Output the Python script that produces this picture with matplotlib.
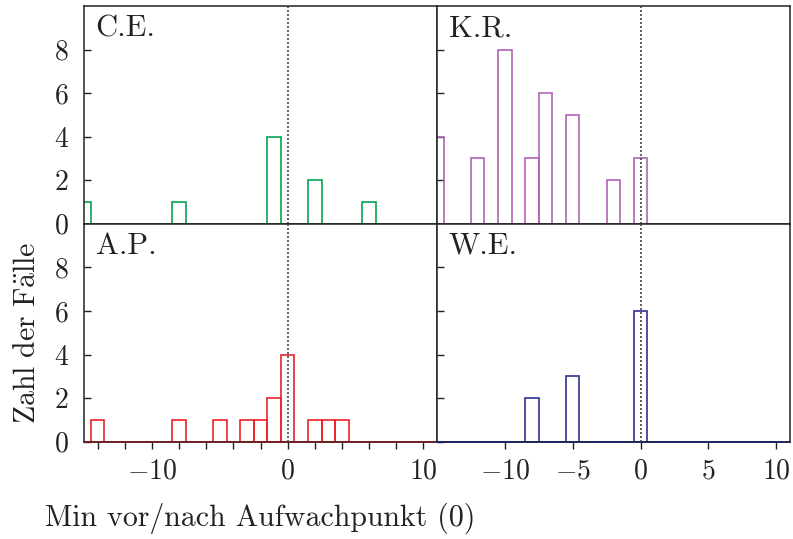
import numpy as np
import matplotlib
matplotlib.use("Agg")
import matplotlib.pyplot as plt
from matplotlib.ticker import MultipleLocator

plt.rcParams['font.family'] = 'serif'
plt.rcParams['font.serif'] = ['cmr10']
plt.rcParams['mathtext.fontset'] = 'cm'
plt.rcParams['axes.formatter.use_mathtext'] = True

# Bin centers (minutes before/after waking point), bin width 1
bins_full = list(range(-15, 12))
bins_short = list(range(-15, 11))

# Counts per subject
ce_centers = [-15, -8, -1, 2, 6]
ce_counts = [1, 1, 4, 2, 1]

kr_centers = [-15, -12, -10, -8, -7, -5, -2, 0]
kr_counts = [4, 3, 8, 3, 6, 5, 2, 3]

ap_centers = [-14, -8, -5, -3, -2, -1, 0, 2, 3, 4]
ap_counts = [1, 1, 1, 1, 1, 2, 4, 1, 1, 1]

we_centers = [-8, -5, 0]
we_counts = [2, 3, 6]

names = ['C.E.', 'K.R.', 'A.P.', 'W.E.']
colors = ['#00a650', '#b262b8', '#ee2028', '#2e3192']
dark_colors = ['#1f5a34', '#5a3a5c', '#6a1f1f', '#20235a']
panels = [(ce_centers, ce_counts, bins_full),
          (kr_centers, kr_counts, bins_full),
          (ap_centers, ap_counts, bins_short),
          (we_centers, we_counts, bins_short)]

fig, axes = plt.subplots(2, 2, figsize=(7.93, 5.39), dpi=100)
fig.subplots_adjust(left=0.106, right=0.996, bottom=0.1805, top=0.989,
                    wspace=0, hspace=0)

for i, ax in enumerate(axes.flat):
    centers, counts, bins = panels[i]
    lookup = dict(zip(centers, counts))
    vals = [lookup.get(b, 0) for b in bins]
    ax.bar(bins, vals, width=1.0, fill=False, edgecolor=colors[i],
           linewidth=1.2, zorder=2)
    ax.axvline(0, color='#444444', linestyle=(0, (1.2, 1.2)), linewidth=1.2,
               zorder=4)
    ax.set_xlim(-15, 11)
    ax.set_ylim(0, 10)
    ax.spines['bottom'].set_color(dark_colors[i])
    ax.spines['bottom'].set_linewidth(1.4)
    ax.spines['bottom'].set_zorder(3)
    for s in ['left', 'right', 'top']:
        ax.spines[s].set_color('#222222')
        ax.spines[s].set_linewidth(1.1)
    ax.set_yticks([0, 2, 4, 6, 8])
    ax.tick_params(axis='y', direction='in', length=5, width=1, pad=11,
                   labelsize=20, colors='#222222')
    ax.tick_params(axis='x', direction='out', length=5, width=1, pad=7,
                   labelsize=20, colors='#222222')
    ax.text(0.033, 0.96, names[i], transform=ax.transAxes, ha='left',
            va='top', fontsize=22, color='#222222')

# tick configuration per panel
for ax in axes[0, :]:
    ax.set_xticks([-10, -5, 0, 5, 10])
    ax.tick_params(axis='x', labelbottom=False)
axes[1, 0].set_xticks([-10, 0, 10])
axes[1, 0].xaxis.set_minor_locator(MultipleLocator(2))
axes[1, 0].tick_params(which='minor', axis='x', direction='out', length=5,
                       width=1, colors='#222222')
axes[1, 1].set_xticks([-10, -5, 0, 5, 10])
for ax in axes[:, 1]:
    ax.tick_params(axis='y', labelleft=False)

axes[1, 0].set_xlabel('Min vor/nach Aufwachpunkt (0)', fontsize=21.5,
                      color='#222222', labelpad=13)
axes[1, 0].set_ylabel(r'$\mathrm{Zahl\ der\ F\ddot{a}lle}$', fontsize=21.5,
                      color='#222222', labelpad=9)

fig.savefig('out.png', dpi=100)
